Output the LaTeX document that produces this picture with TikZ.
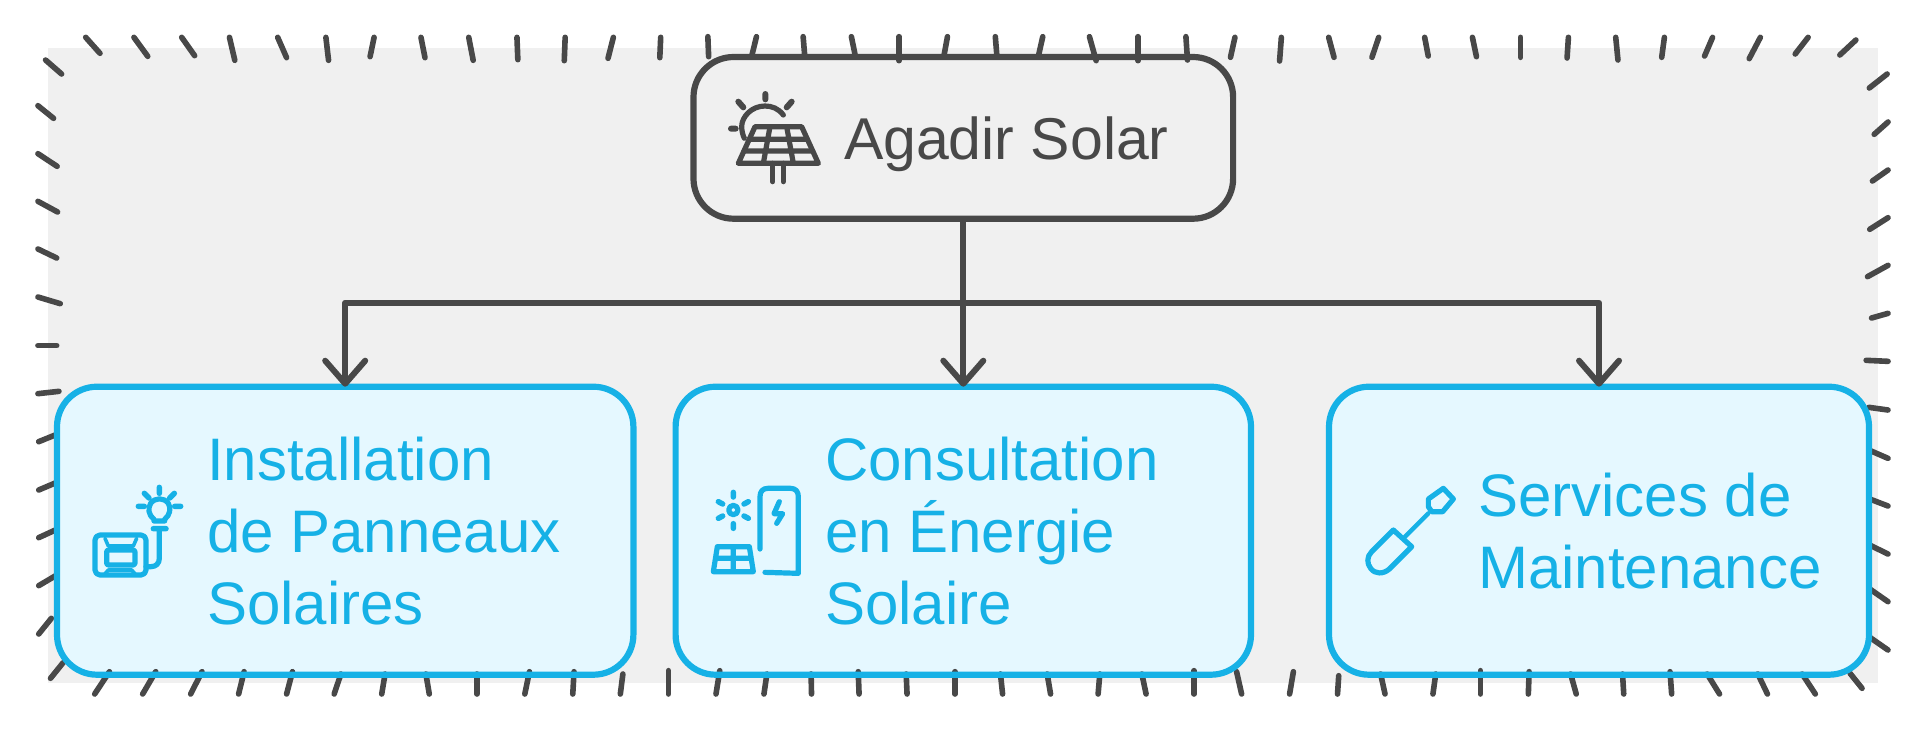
\documentclass[tikz,border=0pt]{standalone}
\usepackage{fontspec}
\setmainfont{Liberation Sans}
\usetikzlibrary{arrows.meta}
\definecolor{ink}{HTML}{484848}
\definecolor{sky}{HTML}{16B1E6}
\definecolor{pale}{HTML}{E5F8FF}
\definecolor{paper}{HTML}{F0F0F0}
\tikzset{
  x=1pt,y=-1pt,
  tickm/.style={draw=ink,line width=5.6pt,line cap=round},
  rootbox/.style={draw=ink,line width=6.2pt,rounded corners=40pt,inner sep=0pt,outer sep=0pt},
  leafbox/.style={draw=sky,line width=6.2pt,rounded corners=40pt,inner sep=0pt,outer sep=0pt},
  leaffill/.style={fill=pale,rounded corners=40pt},
  conn/.style={draw=ink,line width=6pt,line join=round},
  arrowed/.style={conn,-{Straight Barb[round,length=23pt,width=40pt]}},
  leaftext/.style={text=sky,font=\fontsize{60}{72}\selectfont,align=left,inner sep=0pt,outer sep=0pt,anchor=west},
  roottext/.style={text=ink,font=\fontsize{59}{72}\selectfont,inner sep=0pt,outer sep=0pt,anchor=base west},
  grayicon/.style={draw=ink,line width=5.2pt,line cap=round,line join=round},
  blueicon/.style={draw=sky,line width=5.2pt,line cap=round,line join=round},
}
\begin{document}
\begin{tikzpicture}
\useasboundingbox (0,0) rectangle (1926,732);
\fill[paper] (48,48) rectangle (1878,683);
\fill[leaffill] (57,386.7) rectangle (633.4,674.7);
\fill[leaffill] (675.6,386.7) rectangle (1251,674.7);
\fill[leaffill] (1329,386.7) rectangle (1869,674.7);
% ticks, top left and left
\begin{scope}[xscale=1/2.24,yscale=1/3]
\foreach \a/\b/\c/\d in {192/112/224/160,300/112/331/169,407/112/436/167,514/112/526/181,622/112/642/173,730/112/736/181,838/112/829/170,943/112/952/173,1050/112/1060/181,1158/112/1160/179,1266/112/1264/182,1374/112/1362/175,1480/112/1478/173,102/180/138/222,85/317/120/355,85/461/128/499,85/604/129/636,85/747/127/774,85/891/135/911,85/1037/127/1037,85/1181/132/1174}
  \draw[tickm] (\a,\b) -- (\c,\d);
\end{scope}
% ticks, top right and right
\begin{scope}[shift={(1226,0)},xscale=1/2.24,yscale=1/3]
\foreach \a/\b/\c/\d in {20/112/10/172,124/112/120/183,230/112/242/172,342/112/327/172,445/112/453/168,552/112/561/170,660/112/660/172,767/112/764/174,873/112/878/180,982/112/976/172,1090/112/1072/168,1197/112/1172/176,1304/112/1275/162,1411/120/1375/165,1481/222/1441/264,1483/366/1452/403,1483/510/1448/543,1483/653/1442/688,1483/796/1437/830,1483/940/1446/954,1483/1084/1434/1081}
  \draw[tickm] (\a,\b) -- (\c,\d);
\end{scope}
% ticks, above the root
\begin{scope}[shift={(660,30)},xscale=1/2.529,yscale=1/3]
\foreach \a/\b/\c/\d in {121/20/123/80,244/20/232/78,362/20/366/78,484/20/494/78,605/20/605/92,727/20/718/78,848/20/852/78,968/20/957/78,1086/20/1103/92,1209/20/1209/92,1330/20/1334/90}
  \draw[tickm] (\a,\b) -- (\c,\d);
\end{scope}
% ticks, below leaf 1 and left
\begin{scope}[shift={(0,370)},xscale=1/2.376,yscale=1/3]
\foreach \a/\b/\c/\d in {92/215/135/193,92/360/135/337,92/503/135/478,92/647/135/615,92/792/122/745,120/925/150/878,225/972/260/905,339/972/370/905,453/972/480/905,567/972/580/905,681/972/695/905,794/972/810/912,907/972/915/912,1020/972/1012/912,1133/972/1133/912,1247/972/1258/905,1361/972/1364/905,1474/972/1480/912}
  \draw[tickm] (\a,\b) -- (\c,\d);
\end{scope}
% ticks, below leaf 2
\begin{scope}[shift={(660,370)},xscale=1/2.376,yscale=1/3]
\foreach \a/\b/\c/\d in {20/972/20/902,133/972/142/902,247/972/254/912,360/972/359/912,473/972/471/905,587/972/585/912,701/972/701/905,814/972/809/912,928/972/920/912,1041/972/1045/912,1155/972/1145/912,1269/972/1269/902,1382/972/1370/905,1496/972/1505/905}
  \draw[tickm] (\a,\b) -- (\c,\d);
\end{scope}
% ticks, below leaf 3 and right
\begin{scope}[shift={(1300,370)},xscale=1/2.505,yscale=1/3]
\foreach \a/\b/\c/\d in {94/972/97/917,213/972/202/912,333/972/340/912,452/972/452/902,572/972/574/905,692/972/678/912,811/972/808/912,931/972/927/905,1051/972/1020/912,1171/972/1147/912,1291/972/1258/912,1408/955/1378/910,1473/120/1425/112,1473/265/1425/240,1473/408/1425/386,1473/552/1425/524,1473/695/1425/655,1473/840/1425/800}
  \draw[tickm] (\a,\b) -- (\c,\d);
\end{scope}
% boxes
\node[rootbox,minimum width=539.6pt,minimum height=161.7pt] (root) at (963.3,137.85) {};
\node[leafbox,minimum width=576.4pt,minimum height=288pt] (leafa) at (345.2,530.7) {};
\node[leafbox,minimum width=575.4pt,minimum height=288pt] (leafb) at (963.3,530.7) {};
\node[leafbox,minimum width=540pt,minimum height=288pt] (leafc) at (1599,530.7) {};
% connectors
\coordinate (bus) at (963.3,302.7);
\draw[conn] (root.south) -- (bus);
\draw[arrowed] (bus) -| (leafa.north);
\draw[arrowed] (bus) -- (leafb.north);
\draw[arrowed] (bus) -| (leafc.north);
% texts
\node[roottext] (troot) at (844,159) {Agadir Solar};
\node[leaftext] (ta) at (207,531) {Installation\\de Panneaux\\Solaires};
\node[leaftext] (tb) at (825,531) {Consultation\\en Énergie\\Solaire};
\node[leaftext] (tc) at (1478,531) {Services de\\Maintenance};
% icon: solar panel
\begin{scope}[shift={(720,80)},xscale=1/3,yscale=1/3]
\draw[grayicon,line width=6pt] (33,146) -- (47,146) (136,42) -- (136,58) (55,65) -- (70,82) (215,65) -- (200,82);
\draw[grayicon] (190,105) .. controls (175,85) and (155,78) .. (135,78) .. controls (95,78) and (65,110) .. (65,140) .. controls (65,150) and (68,165) .. (73,175);
\draw[grayicon] (105,140) -- (245,140) -- (295,250) -- (55,250) -- cycle;
\draw[grayicon] (88,178) -- (262,178) (72,213) -- (278,213) (150,140) -- (130,250) (200,140) -- (220,250);
\draw[grayicon] (158,250) -- (158,305) (190,250) -- (190,305);
\end{scope}
% icon: generator and bulb
\begin{scope}[shift={(80,470)},xscale=1/3,yscale=1/3]
\draw[blueicon] (222,148) .. controls (205,135) and (203,115) .. (212,100) .. controls (225,82) and (252,82) .. (265,100) .. controls (274,115) and (270,135) .. (254,148) -- (254,153) -- (222,153) -- cycle;
\draw[blueicon,line width=5.5pt] (238,52) -- (238,70) (193,70) -- (207,84) (283,70) -- (269,84) (175,109) -- (193,109) (302,109) -- (284,109) (220,176) -- (258,176);
\draw[blueicon] (238,176) -- (238,265) .. controls (238,280) and (228,290) .. (213,290) -- (198,290);
\draw[blueicon,rounded corners=5pt] (45,195) rectangle (198,315);
\draw[blueicon,rounded corners=2pt] (80,240) rectangle (165,285);
\draw[blueicon,line width=3.6pt] (75,205) -- (85,228) -- (160,228) -- (170,205);
\draw[blueicon,line width=3.6pt] (72,315) -- (85,300) -- (155,300) -- (168,315);
\end{scope}
% icon: sun, panel, charger
\begin{scope}[shift={(700,475)},xscale=1/3,yscale=1/3]
\draw[blueicon] (100,105) circle (14);
\draw[blueicon,line width=5.5pt] (100,52) -- (100,66) (100,146) -- (100,160) (55,80) -- (68,87) (145,80) -- (132,87) (55,130) -- (68,123) (145,130) -- (132,123);
\draw[blueicon] (52,215) -- (148,215) -- (160,290) -- (40,290) -- cycle (100,215) -- (100,290) (47,250) -- (153,250);
\draw[blueicon] (180,222) -- (180,65) .. controls (180,50) and (188,40) .. (203,40) -- (272,40) .. controls (287,40) and (295,50) .. (295,65) -- (295,295) -- (195,292);
\draw[blueicon] (238,80) -- (222,116) -- (248,116) -- (230,145);
\end{scope}
% icon: screwdriver
\begin{scope}[shift={(1350,475)},xscale=1/3,yscale=1/3]
\draw[blueicon] (130,165) -- (185,215) -- (118,282) .. controls (100,298) and (75,298) .. (62,280) .. controls (50,265) and (50,245) .. (65,230) -- cycle;
\draw[blueicon,line width=4.4pt] (165,185) -- (235,115);
\draw[blueicon] (235,72) -- (280,40) -- (310,72) -- (278,110) -- (245,110) -- (235,95) -- cycle;
\end{scope}
\end{tikzpicture}
\end{document}
